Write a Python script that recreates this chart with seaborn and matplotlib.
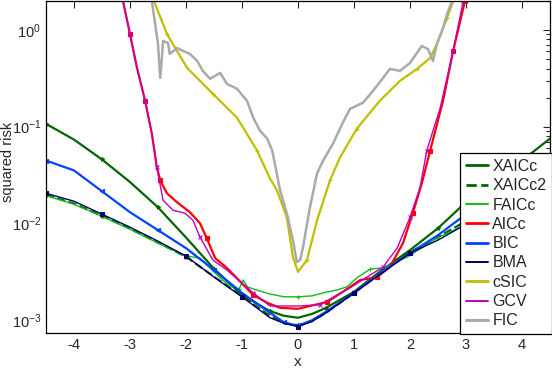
import matplotlib
matplotlib.use("Agg")
from matplotlib import pyplot as plt
from matplotlib.lines import Line2D
import seaborn as sns

# common grid for the smooth estimators
x_grid = [-4.5, -4, -3.5, -3, -2.5, -2, -1.5, -1, -0.5, -0.25, 0, 0.25, 0.5,
          1, 1.5, 2, 2.5, 3, 3.5, 4, 4.5]
xaicc = [0.107, 0.0734, 0.0457, 0.0267, 0.0146, 0.00711, 0.00338, 0.0018, 0.00123,
         0.0011, 0.00105, 0.00115, 0.00133, 0.00195, 0.00328, 0.00527, 0.00888,
         0.0165, 0.0265, 0.0446, 0.0752]
xaicc2 = [0.0196, 0.016, 0.0119, 0.0088, 0.0063, 0.0045, 0.0028, 0.00175, 0.0011,
          0.00092, 0.00088, 0.00097, 0.00118, 0.0019, 0.0031, 0.005, 0.0072,
          0.0105, 0.015, 0.0215, 0.030]
bic = [0.0446, 0.0352, 0.0214, 0.0130, 0.00847, 0.00552, 0.00328, 0.0019, 0.00118,
       0.00094, 0.000867, 0.00099, 0.00121, 0.0019, 0.00313, 0.00491, 0.00752,
       0.0124, 0.0194, 0.0305, 0.0468]
bma = [0.0204, 0.0169, 0.0124, 0.0091, 0.00652, 0.00457, 0.00277, 0.00173, 0.00105,
       0.00092, 0.000848, 0.00096, 0.00118, 0.0019, 0.00305, 0.00491, 0.00668,
       0.00977, 0.0136, 0.019, 0.0265]

x_faicc = [-4.5, -4, -3.5, -3, -2.5, -2, -1.75, -1.5, -1.25, -1.05, -0.98, -0.9,
           -0.75, -0.5, -0.25, 0, 0.25, 0.45, 0.7, 0.87, 1.05, 1.29, 1.52, 1.7,
           1.95, 2.48, 2.9, 3.5, 4, 4.5]
faicc = [0.0194, 0.0157, 0.0118, 0.00867, 0.00622, 0.00457, 0.00436, 0.00313, 0.0023,
         0.00209, 0.00258, 0.00219, 0.00204, 0.00185, 0.00173, 0.00173, 0.00177,
         0.0019, 0.00204, 0.00219, 0.00271, 0.00336, 0.00344, 0.00387, 0.00446,
         0.0070, 0.0091, 0.013, 0.0173, 0.023]

x_aicc = [-3.25, -3.0, -2.875, -2.73, -2.61, -2.52, -2.46, -2.34, -2.16, -1.93,
          -1.75, -1.63, -1.48, -1.27, -0.8, -0.55, -0.32, 0, 0.52, 0.8,
          1.11, 1.41, 1.64, 1.875, 2.05, 2.21, 2.36, 2.59, 2.77, 2.98, 3.1]
aicc = [4.4, 0.909, 0.406, 0.185, 0.0847, 0.0378, 0.0277, 0.0204, 0.0165, 0.013,
        0.010, 0.0070, 0.00436, 0.00344, 0.00181, 0.0015, 0.00133, 0.0013, 0.00153,
        0.00195, 0.00258, 0.00277, 0.00352, 0.00622, 0.0127, 0.0258, 0.0566, 0.185,
        0.608, 1.99, 3.3]

x_gcv = [-3.25, -3.0, -2.875, -2.73, -2.61, -2.52, -2.41, -2.23, -2.02, -1.875,
         -1.75, -1.52, -1.27, -0.8, -0.5, 0, 0.39, 0.7, 0.93, 1.23,
         1.52, 1.77, 2.0, 2.18, 2.30, 2.54, 2.77, 2.95, 3.05]
gcv = [4.4, 0.909, 0.406, 0.185, 0.0847, 0.0378, 0.0173, 0.0136, 0.0127, 0.0107,
       0.00718, 0.00416, 0.00328, 0.0019, 0.00139, 0.00139, 0.00143, 0.00181, 0.00214,
       0.00277, 0.00352, 0.00552, 0.0115, 0.0235, 0.0566, 0.157, 0.608, 1.99, 3.5]

x_csic = [-2.7, -2.57, -2.34, -1.98, -1.52, -1.09, -0.73, -0.625, -0.5, -0.375,
          -0.2, -0.09, 0, 0.16, 0.34, 0.57, 0.75, 1.05, 1.46, 1.82,
          2.125, 2.36, 2.48, 2.66, 2.77, 2.9]
csic = [4.0, 1.99, 0.909, 0.406, 0.219, 0.124, 0.0566, 0.0416, 0.029, 0.0219,
        0.0115, 0.00446, 0.00313, 0.00416, 0.0107, 0.0277, 0.0479, 0.0953, 0.185,
        0.298, 0.396, 0.515, 0.717, 1.33, 1.99, 3.5]

x_fic = [-2.7, -2.61, -2.55, -2.5, -2.46, -2.43, -2.41, -2.32, -2.29, -2.16,
         -2.05, -1.93, -1.80, -1.70, -1.57, -1.39, -1.27, -1.09, -0.91, -0.80,
         -0.68, -0.55, -0.46, -0.32, -0.2, -0.09, -0.02, 0.04, 0.09, 0.21,
         0.34, 0.45, 0.625, 0.8, 0.93, 1.16, 1.34, 1.52, 1.64, 1.82,
         2.0, 2.21, 2.32, 2.41, 2.48, 2.59, 2.66, 2.75, 2.9]
fic = [3.5, 1.99, 1.15, 0.717, 0.32, 0.515, 0.77, 0.734, 0.566, 0.652,
       0.608, 0.566, 0.479, 0.378, 0.313, 0.36, 0.277, 0.247, 0.185, 0.124,
       0.091, 0.0752, 0.0566, 0.0219, 0.0127, 0.00668, 0.00396, 0.00418, 0.00566,
       0.0143, 0.0328, 0.0446, 0.0668, 0.11, 0.153, 0.177, 0.235, 0.32, 0.396,
       0.378, 0.457, 0.684, 0.637, 0.479, 0.717, 1.05, 1.46, 1.99, 3.5]

sns.set_style("white")
plt.rcParams["font.family"] = ["Liberation Sans", "DejaVu Sans"]
plt.rcParams["axes.unicode_minus"] = False

# name, x, y, color, linewidth, linestyle, marker
series = [
    ("XAICc", x_grid, xaicc, "#006600", 1.6, "-", "*"),
    ("XAICc2", x_grid, xaicc2, "#006600", 1.6, "--", "*"),
    ("FAICc", x_faicc, faicc, "#11BB11", 1.0, "-", "+"),
    ("AICc", x_aicc, aicc, "#FF0000", 1.6, "-", "s"),
    ("BIC", x_grid, bic, "#0044FF", 1.6, "-", "<"),
    ("BMA", x_grid, bma, "#000066", 1.0, "-", "s"),
    ("cSIC", x_csic, csic, "#BFBF00", 1.6, "-", "+"),
    ("GCV", x_gcv, gcv, "#C000C0", 1.0, "-", "x"),
    ("FIC", x_fic, fic, "#AAAAAA", 1.8, "-", None),
]

fig = plt.figure(figsize=(5.52, 3.70), dpi=100)
ax = fig.add_axes([46 / 552, 37 / 370, 504 / 552, 332 / 370])

handles = []
for name, xs, ys, col, lw, ls, mk in series:
    sns.lineplot(x=xs, y=ys, ax=ax, color=col, linewidth=lw, linestyle=ls,
                 marker=mk, markersize=3, markevery=0.12, markeredgecolor=col,
                 markeredgewidth=0.8, sort=False, estimator=None)
    handles.append(Line2D([], [], color=col, linewidth=lw + 0.4, linestyle=ls, label=name))

ax.set_yscale("log")
ax.set_xlim(-4.5, 4.5)
ax.set_ylim(7.3e-4, 2.0)
ax.set_xticks([-4, -3, -2, -1, 0, 1, 2, 3, 4])
ax.tick_params(which="both", direction="in", top=True, right=True, labelsize=10.5)
ax.tick_params(which="major", length=5, width=0.8)
ax.tick_params(which="minor", length=3, width=0.8)
for sp in ax.spines.values():
    sp.set_color("black")
    sp.set_linewidth(0.9)

ax.set_xlabel("x", fontsize=11, labelpad=2)
ax.set_ylabel("squared risk", fontsize=10.5)
ax.yaxis.set_label_coords(-0.062, 0.515)

leg = fig.legend(handles=handles, loc="lower right",
                 bbox_to_anchor=(1.0, 36 / 370), bbox_transform=fig.transFigure,
                 fontsize=11.5, frameon=True, fancybox=False, framealpha=1,
                 edgecolor="black", labelspacing=0.27, handlelength=1.35,
                 handletextpad=0.3, borderpad=0.35, borderaxespad=0)
leg.get_frame().set_linewidth(0.9)

fig.savefig("out.png", dpi=100)
